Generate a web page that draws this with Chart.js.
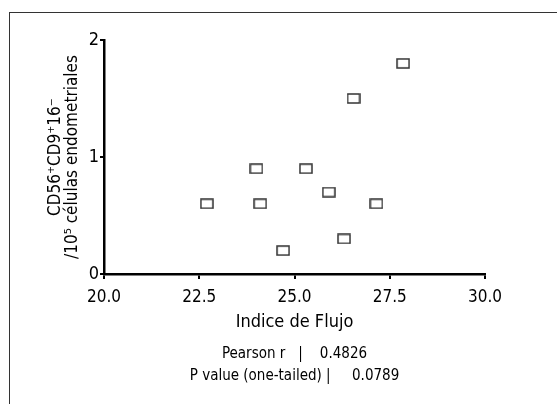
<!DOCTYPE html>
<html>
<head>
<meta charset="utf-8">
<script src="https://cdn.jsdelivr.net/npm/chart.js@4/dist/chart.umd.min.js"></script>
<style>
    body { margin: 0; background: #fff; }
    #wrap { position: relative; width: 557px; height: 404px; }
    #frame { position: absolute; left: 9px; top: 12px; right: 0; bottom: 0; border-top: 1px solid #333; border-left: 1px solid #333; }
    #grafico { position: absolute; left: 0; top: 0; }
</style>
</head>
<body>
<div id="wrap">
    <div id="frame"></div>
    <canvas id="grafico" width="557" height="404"></canvas>
</div>
<script>
// datos
const indiceFlujo = [22.7, 24.0, 24.1, 24.7, 25.3, 25.9, 26.3, 26.55, 27.15, 27.85];
const celulasCD56 = [0.6, 0.9, 0.6, 0.2, 0.9, 0.7, 0.3, 1.5, 0.6, 1.8];
const xTicks = [20, 22.5, 25, 27.5, 30];
const yTicks = [0, 1, 2];
const tituloY = ["CD56\u207ACD9\u207A16\u207B", "/10\u2075 c\u00E9lulas endometriales"];
const tituloX = "Indice de Flujo";
const estadisticas = ["Pearson r   |    0.4826", "P value (one-tailed) |     0.0789"];

const fuente = "'DejaVu Sans Condensed', 'Liberation Sans Narrow', sans-serif";
const tinta = "#000";

// marcador rectangular hueco
const marcador = document.createElement("canvas");
marcador.width = 14;
marcador.height = 11;
const mctx = marcador.getContext("2d");
mctx.strokeStyle = "#333";
mctx.lineWidth = 1.5;
mctx.strokeRect(1, 1, 12, 9);

// texto de estadisticas bajo el eje x
const textoEstadisticas = {
    id: "textoEstadisticas",
    afterDraw(chart) {
        const { ctx, chartArea } = chart;
        const cx = (chartArea.left + chartArea.right) / 2;
        ctx.save();
        ctx.font = "15px " + fuente;
        ctx.fillStyle = tinta;
        ctx.textAlign = "center";
        ctx.textBaseline = "middle";
        estadisticas.forEach((t, i) => ctx.fillText(t, cx, chartArea.bottom + 80 + i * 22));
        ctx.restore();
    }
};

const puntos = indiceFlujo.map((x, i) => ({ x: x, y: celulasCD56[i] }));

new Chart(document.getElementById("grafico"), {
    type: "scatter",
    data: {
        datasets: [{
            data: puntos,
            pointStyle: marcador,
            pointRadius: 7,
            pointHoverRadius: 7
        }]
    },
    options: {
        responsive: false,
        animation: false,
        devicePixelRatio: 1,
        layout: { padding: { top: 40, right: 72, left: 0, bottom: 0 } },
        plugins: {
            legend: { display: false },
            tooltip: { enabled: false }
        },
        scales: {
            x: {
                type: "linear",
                min: 20,
                max: 30,
                afterBuildTicks: s => { s.ticks = xTicks.map(v => ({ value: v })); },
                afterFit: s => { s.height = 130; },
                border: { display: true, color: tinta, width: 2.5 },
                grid: { drawOnChartArea: false, drawTicks: true, tickLength: 5, color: tinta, lineWidth: 2 },
                ticks: {
                    color: tinta,
                    font: { family: fuente, size: 17 },
                    padding: 8,
                    maxRotation: 0,
                    autoSkip: false,
                    callback: v => v.toFixed(1)
                },
                title: {
                    display: true,
                    text: tituloX,
                    color: tinta,
                    font: { family: fuente, size: 18, lineHeight: 1.2 },
                    padding: { top: 0, bottom: 71 }
                }
            },
            y: {
                type: "linear",
                min: 0,
                max: 2,
                afterBuildTicks: s => { s.ticks = yTicks.map(v => ({ value: v })); },
                afterFit: s => { s.width = 104; },
                border: { display: true, color: tinta, width: 2.5 },
                grid: { drawOnChartArea: false, drawTicks: true, tickLength: 4, color: tinta, lineWidth: 2 },
                ticks: {
                    color: tinta,
                    font: { family: fuente, size: 18 },
                    padding: 1
                },
                title: {
                    display: true,
                    text: tituloY,
                    color: tinta,
                    font: { family: fuente, size: 17, lineHeight: 1.0 },
                    padding: { top: 47, bottom: 0 }
                }
            }
        }
    },
    plugins: [textoEstadisticas]
});
</script>
</body>
</html>
